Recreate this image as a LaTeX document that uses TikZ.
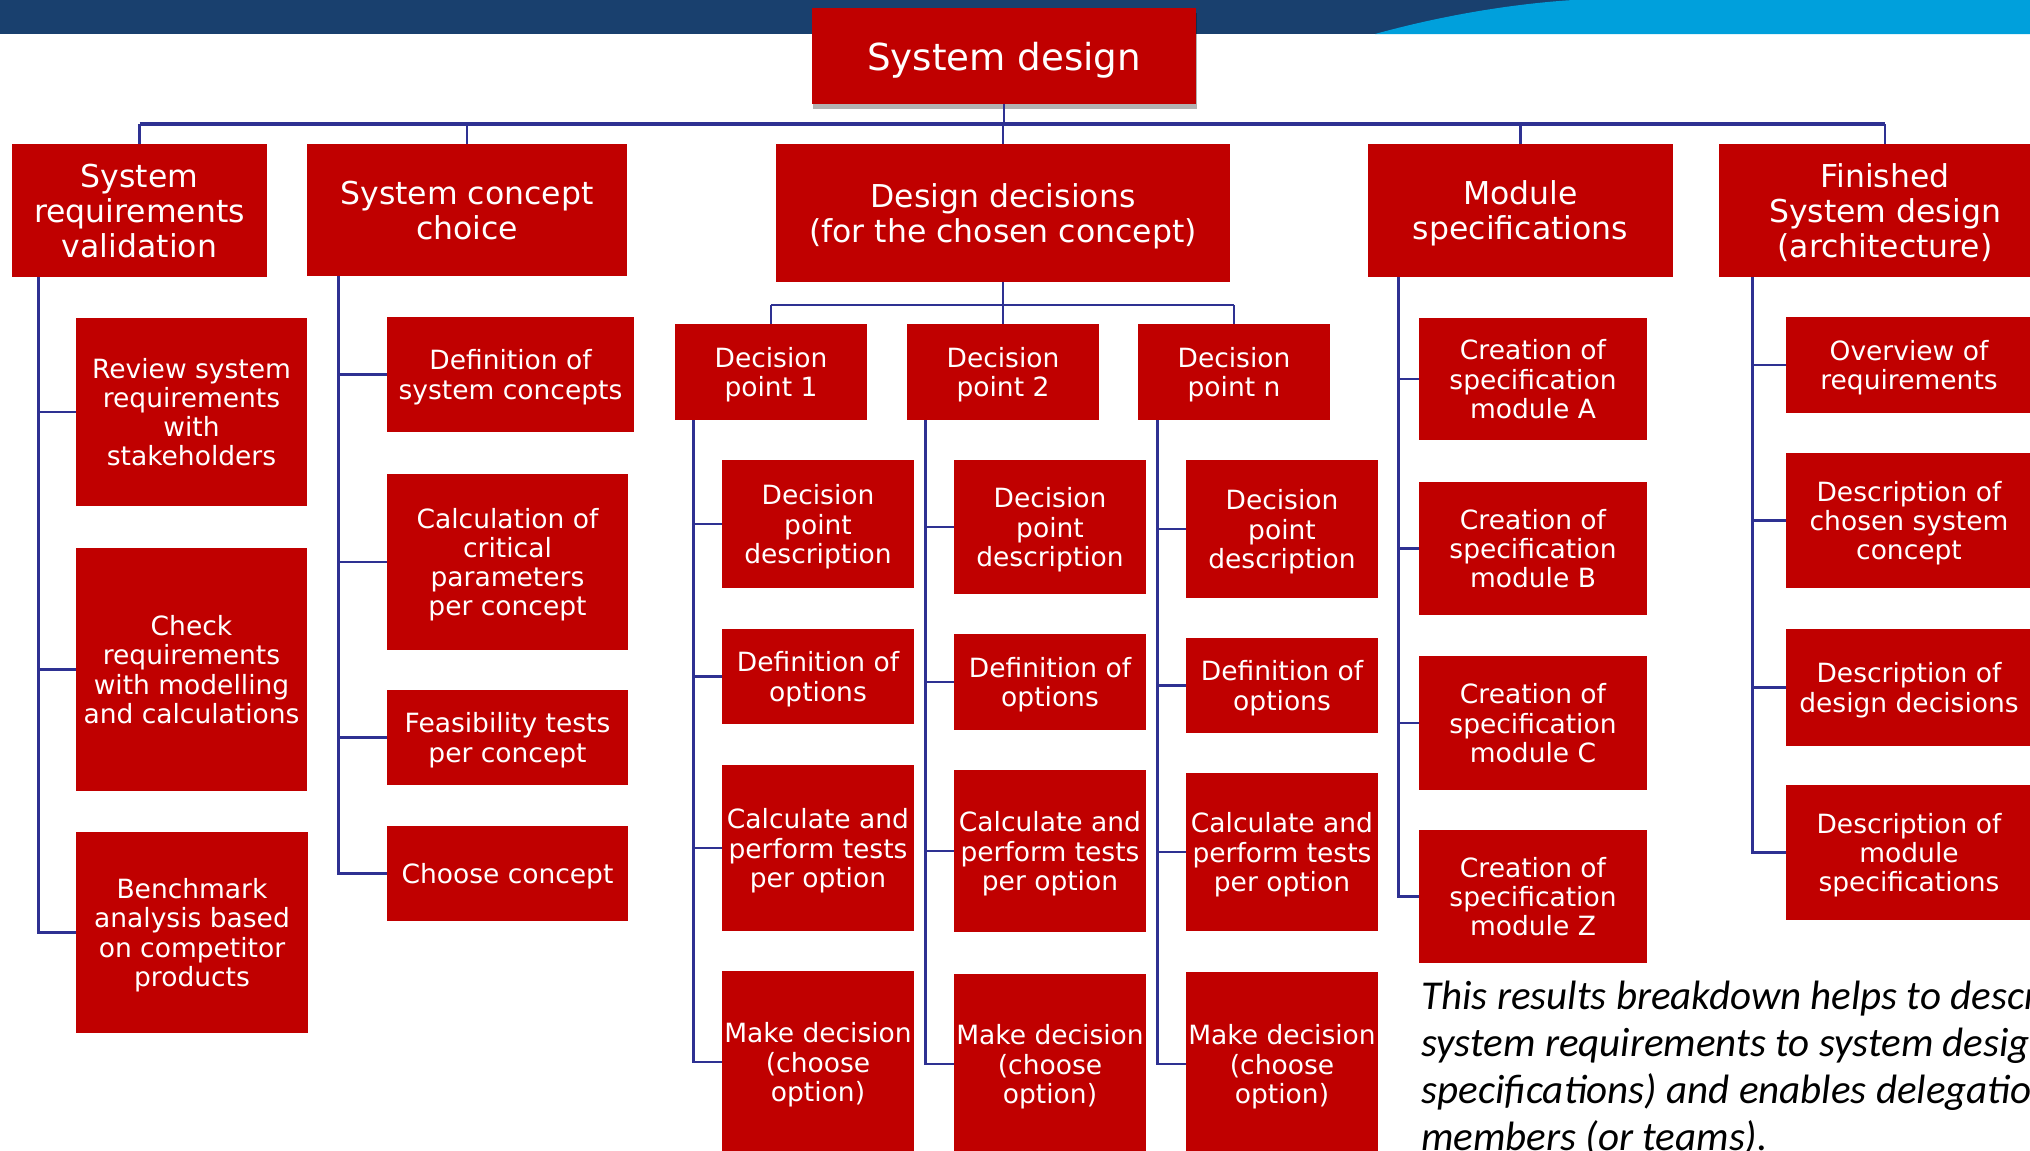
\documentclass[tikz,border=0pt]{standalone}
\usepackage{fontspec}
\setmainfont{DejaVu Sans}
\newfontfamily\noteFont{Carlito}
\usetikzlibrary{shadows}
\definecolor{dred}{RGB}{192,0,0}
\definecolor{lnblue}{RGB}{46,49,146}
\definecolor{bardark}{RGB}{25,64,110}
\definecolor{barlight}{RGB}{0,160,220}
\begin{document}
\begin{tikzpicture}[x=0.5pt,y=-0.5pt,
  box/.style={fill=dred, text=white, inner sep=0pt, align=center, text depth=0pt},
  big/.style={box, font=\fontsize{15.75}{17.5}\selectfont},
  small/.style={box, font=\fontsize{13.25}{14.6}\selectfont},
  sz/.style 2 args={minimum width=#1, minimum height=#2},
  conn/.style={draw=lnblue, line width=1.2pt},
  busline/.style={draw=lnblue, line width=1.6pt},
]
\useasboundingbox (0,0) rectangle (2030,1151);
\begin{scope}
\clip (0,0) rectangle (2030,1151);
\fill[white] (0,0) rectangle (2030,1151);
% top bar
\fill[bardark] (0,0) rectangle (2030,34);
\fill[barlight] (1375,34) .. controls (1440,16) and (1510,4) .. (1573,0) -- (2030,0) -- (2030,34) -- cycle;

% level 0
\node[box, sz={192pt}{48pt}, font=\fontsize{18.6}{20}\selectfont,
  drop shadow={shadow xshift=0.4pt, shadow yshift=-2.5pt, opacity=0.3, fill=black}] (top) at (1004,56) {System design};

% level 1
\node[big, sz={127.5pt}{66.5pt}] (srv) at (139.5,210.5) {System\\requirements\\validation};
\node[big, sz={160pt}{66pt}] (scc) at (467,210) {System concept\\choice};
\node[big, sz={227pt}{69pt}] (dd) at (1003,213) {Design decisions\\(for the chosen concept)};
\node[big, sz={152.5pt}{66.5pt}] (ms) at (1520.5,210.5) {Module\\specifications};
\node[big, sz={166pt}{66.5pt}] (fsd) at (1885,210.5) {Finished\\System design\\(architecture)};

% SRV children
\node[small, sz={115.5pt}{94pt}] (srv1) at (191.5,412) {Review system\\requirements\\with\\stakeholders};
\node[small, sz={115.5pt}{121.5pt}] (srv2) at (191.5,669.5) {Check\\requirements\\with modelling\\and calculations};
\node[small, sz={116pt}{100.5pt}] (srv3) at (192,932.5) {Benchmark\\analysis based\\on competitor\\products};

% SCC children
\node[small, sz={123.5pt}{57.5pt}] (scc1) at (510.5,374.5) {Definition of\\system concepts};
\node[small, sz={120.5pt}{88pt}] (scc2) at (507.5,562) {Calculation of\\critical\\parameters\\per concept};
\node[small, sz={120.5pt}{47.5pt}] (scc3) at (507.5,737.5) {Feasibility tests\\per concept};
\node[small, sz={120.5pt}{47.5pt}] (scc4) at (507.5,873.5) {Choose concept};

% decision points
\node[small, sz={96pt}{48pt}] (dp1) at (771,372) {Decision\\point 1};
\node[small, sz={96pt}{48pt}] (dp2) at (1003,372) {Decision\\point 2};
\node[small, sz={96pt}{48pt}] (dpn) at (1234,372) {Decision\\point n};

\node[small, sz={96pt}{64pt}] (d1a) at (818,524) {Decision\\point\\description};
\node[small, sz={96pt}{47.5pt}] (d1b) at (818,676.5) {Definition of\\options};
\node[small, sz={96pt}{83pt}] (d1c) at (818,848) {Calculate and\\perform tests\\per option};
\node[small, sz={96pt}{91pt}] (d1d) at (818,1062) {Make decision\\(choose\\option)};

\node[small, sz={96pt}{67pt}] (d2a) at (1050,527) {Decision\\point\\description};
\node[small, sz={96pt}{48pt}] (d2b) at (1050,682) {Definition of\\options};
\node[small, sz={96pt}{81pt}] (d2c) at (1050,851) {Calculate and\\perform tests\\per option};
\node[small, sz={96pt}{90pt}] (d2d) at (1050,1064) {Make decision\\(choose\\option)};

\node[small, sz={96pt}{69pt}] (dna) at (1282,529) {Decision\\point\\description};
\node[small, sz={96pt}{47.5pt}] (dnb) at (1282,685.5) {Definition of\\options};
\node[small, sz={96pt}{79pt}] (dnc) at (1282,852) {Calculate and\\perform tests\\per option};
\node[small, sz={96pt}{92pt}] (dnd) at (1282,1064) {Make decision\\(choose\\option)};

% module specs
\node[small, sz={114pt}{61pt}] (msA) at (1533,379) {Creation of\\specification\\module A};
\node[small, sz={114pt}{66.5pt}] (msB) at (1533,548.5) {Creation of\\specification\\module B};
\node[small, sz={114pt}{67pt}] (msC) at (1533,723) {Creation of\\specification\\module C};
\node[small, sz={114pt}{66.5pt}] (msZ) at (1533,896.5) {Creation of\\specification\\module Z};

% finished design
\node[small, sz={123pt}{48pt}] (f1) at (1909,365) {Overview of\\requirements};
\node[small, sz={123pt}{67.5pt}] (f2) at (1909,520.5) {Description of\\chosen system\\concept};
\node[small, sz={123pt}{58.5pt}] (f3) at (1909,687.5) {Description of\\design decisions};
\node[small, sz={123pt}{67.5pt}] (f4) at (1909,852.5) {Description of\\module\\specifications};

% note (anchor at the baseline of its last line)
\node[anchor=base west, align=left, inner sep=0pt, font=\noteFont\itshape\fontsize{20.5}{23.5}\selectfont] (note) at (1421,1150)
 {This results breakdown helps to describe\\system requirements to system design\\specifications) and enables delegation\\members (or teams).};

% connectors
\coordinate (bus) at (0,124);
\draw[conn] (top.south) -- (top.south |- bus);
\draw[busline] (srv.north |- bus) -- (fsd.north |- bus);
\foreach \n in {srv,scc,dd,ms,fsd} \draw[conn] (\n.north |- bus) -- (\n.north);

\coordinate (sb) at (0,305);
\draw[conn] (dd.south) -- (dd.south |- sb);
\draw[conn] (dp1.north |- sb) -- (dpn.north |- sb);
\foreach \n in {dp1,dp2,dpn} \draw[conn] (\n.north |- sb) -- (\n.north);

\coordinate (srvs) at ([xshift=13.5pt]srv.south west);
\draw[conn] (srvs) |- (srv3.west);
\foreach \n in {srv1,srv2} \draw[conn] (srvs |- \n.west) -- (\n.west);

\coordinate (sccs) at ([xshift=16pt]scc.south west);
\draw[conn] (sccs) |- (scc4.west);
\foreach \n in {scc1,scc2,scc3} \draw[conn] (sccs |- \n.west) -- (\n.west);

\coordinate (dp1s) at ([xshift=9.5pt]dp1.south west);
\draw[conn] (dp1s) |- (d1d.west);
\foreach \n in {d1a,d1b,d1c} \draw[conn] (dp1s |- \n.west) -- (\n.west);

\coordinate (dp2s) at ([xshift=9.5pt]dp2.south west);
\draw[conn] (dp2s) |- (d2d.west);
\foreach \n in {d2a,d2b,d2c} \draw[conn] (dp2s |- \n.west) -- (\n.west);

\coordinate (dpns) at ([xshift=10pt]dpn.south west);
\draw[conn] (dpns) |- (dnd.west);
\foreach \n in {dna,dnb,dnc} \draw[conn] (dpns |- \n.west) -- (\n.west);

\coordinate (mss) at ([xshift=15.5pt]ms.south west);
\draw[conn] (mss) |- (msZ.west);
\foreach \n in {msA,msB,msC} \draw[conn] (mss |- \n.west) -- (\n.west);

\coordinate (fsds) at ([xshift=17pt]fsd.south west);
\draw[conn] (fsds) |- (f4.west);
\foreach \n in {f1,f2,f3} \draw[conn] (fsds |- \n.west) -- (\n.west);
\end{scope}
\end{tikzpicture}
\end{document}
